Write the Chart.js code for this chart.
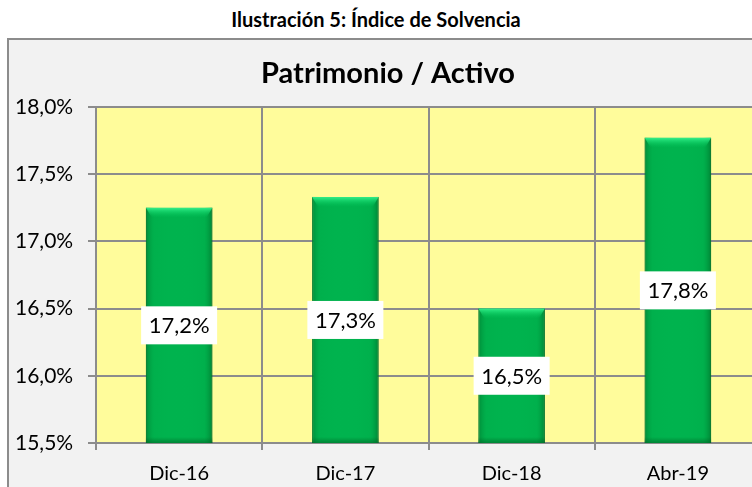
<!DOCTYPE html>
<html><head><meta charset="utf-8">
<script src="https://cdn.jsdelivr.net/npm/chart.js@4/dist/chart.umd.min.js"></script>
<style>
html,body{margin:0;padding:0;background:#fff;overflow:hidden;width:752px;height:487px;}
#outer{position:absolute;left:0;top:7px;width:752px;text-align:center;font:bold 20px Lato, sans-serif;color:#000;}
#frame{position:absolute;left:7px;top:38px;width:780px;height:470px;border:2px solid #8c8c8c;background:#f2f2f2;}
#c{position:absolute;left:0;top:0;}
</style></head>
<body>
<div id="outer">Ilustración 5: Índice de Solvencia</div>
<div id="frame"><canvas id="c" width="752" height="450"></canvas></div>
<script>
const categories = ['Dic-16','Dic-17','Dic-18','Abr-19'];
const values = [17.25, 17.33, 16.50, 17.77];
const labelsText = ['17,2%','17,3%','16,5%','17,8%'];
const yTicks = [15.5, 16.0, 16.5, 17.0, 17.5, 18.0];
const chartTitle = 'Patrimonio / Activo';

const fmt = v => v.toFixed(1).replace('.', ',') + '%';

const plotBg = {
  id:'plotBg',
  beforeDraw(chart){
    const {ctx, chartArea:a} = chart;
    ctx.save(); ctx.fillStyle='#FFFC9B';
    ctx.fillRect(a.left,a.top,a.right-a.left,a.bottom-a.top);
    ctx.restore();
  }
};
const barStyle = {
  id:'barStyle',
  afterDatasetsDraw(chart){
    const ctx = chart.ctx, a = chart.chartArea;
    chart.getDatasetMeta(0).data.forEach(el=>{
      const l = el.x - el.width/2, r = el.x + el.width/2, t = el.y, b = Math.min(el.base, a.bottom);
      ctx.save();
      const g = ctx.createLinearGradient(l,0,r,0);
      g.addColorStop(0,'rgba(0,110,40,0.55)');
      g.addColorStop(0.12,'rgba(0,150,60,0.1)');
      g.addColorStop(0.5,'rgba(0,190,90,0)');
      g.addColorStop(0.88,'rgba(0,150,60,0.1)');
      g.addColorStop(1,'rgba(0,100,35,0.6)');
      ctx.fillStyle=g; ctx.fillRect(l,t,r-l,b-t);
      const h = 10;
      const g2 = ctx.createLinearGradient(0,t,0,t+h);
      g2.addColorStop(0,'#33f08a'); g2.addColorStop(1,'rgba(0,200,90,0)');
      ctx.fillStyle=g2;
      ctx.beginPath(); ctx.moveTo(l,t); ctx.lineTo(r,t); ctx.lineTo(r-6,t+h); ctx.lineTo(l+6,t+h); ctx.closePath(); ctx.fill();
      const g3 = ctx.createLinearGradient(0,b-6,0,b);
      g3.addColorStop(0,'rgba(0,90,30,0)'); g3.addColorStop(1,'rgba(0,90,30,0.5)');
      ctx.fillStyle=g3; ctx.fillRect(l,b-6,r-l,6);
      ctx.restore();
    });
  }
};
const dataLabels = {
  id:'dataLabels',
  afterDatasetsDraw(chart){
    const ctx = chart.ctx, a = chart.chartArea;
    chart.getDatasetMeta(0).data.forEach((el,i)=>{
      const cy = (el.y + Math.min(el.base, a.bottom))/2, cx = el.x;
      const w = 76, h = 38;
      ctx.save();
      ctx.fillStyle='#fff'; ctx.fillRect(cx-w/2, cy-h/2, w, h);
      ctx.fillStyle='#000'; ctx.font='22px Lato, sans-serif';
      ctx.textAlign='center'; ctx.textBaseline='middle';
      ctx.fillText(labelsText[i], cx, cy+1);
      ctx.restore();
    });
  }
};

new Chart(document.getElementById('c'), {
  type:'bar',
  data:{labels:categories, datasets:[{data:values, backgroundColor:'#00B34E', borderColor:'#00853a', borderWidth:1, categoryPercentage:1, barPercentage:0.4}]},
  options:{
    responsive:false, animation:false,
    layout:{padding:{left:6,top:0,right:0,bottom:0}},
    plugins:{
      legend:{display:false}, tooltip:{enabled:false},
      title:{display:true, text:chartTitle, color:'#000', font:{family:'Lato, sans-serif', size:29, weight:'bold'}, padding:{top:16,bottom:16}}
    },
    scales:{
      x:{
        grid:{offset:true, color:'#8c8c8c', lineWidth:2, tickLength:7},
        border:{color:'#8c8c8c', width:2},
        ticks:{color:'#000', font:{family:'Lato, sans-serif', size:20}, padding:12},
        afterFit(s){ s.height = 47; }
      },
      y:{
        min:15.5, max:18,
        afterBuildTicks(s){ s.ticks = yTicks.map(v=>({value:v})); },
        grid:{color:'#8c8c8c', lineWidth:2, tickLength:8},
        border:{color:'#8c8c8c', width:2},
        ticks:{color:'#000', font:{family:'Lato, sans-serif', size:21}, crossAlign:'far', callback:v=>fmt(v)},
        afterFit(s){ s.width = 81; }
      }
    }
  },
  plugins:[plotBg, barStyle, dataLabels]
});
</script>
</body></html>
